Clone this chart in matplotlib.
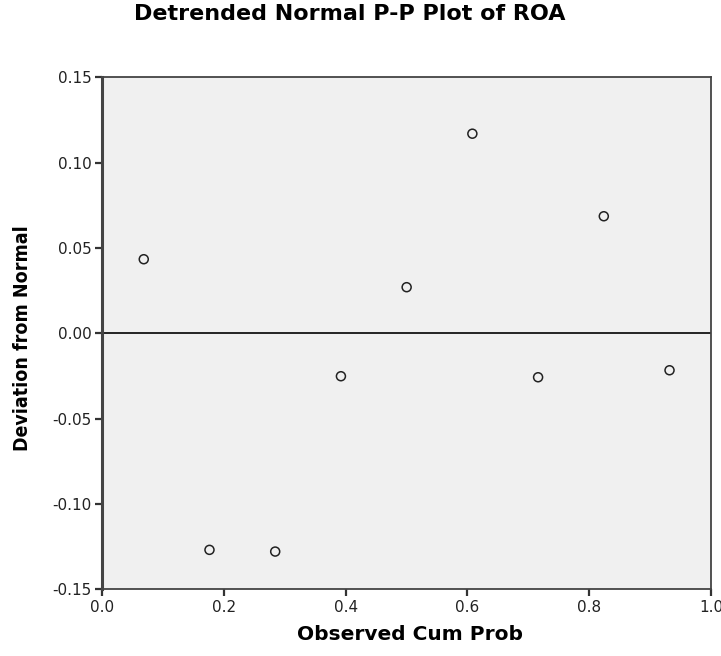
import numpy as np
import matplotlib.pyplot as plt

plt.rcParams['font.family'] = ['DejaVu Sans']

# observed cumulative probabilities and deviations from normal
cum_prob = [0.068, 0.176, 0.284, 0.392, 0.500, 0.608, 0.716, 0.824, 0.932]
deviation = [0.0434, -0.127, -0.128, -0.0252, 0.027, 0.117, -0.0258, 0.0686, -0.0217]

fig = plt.figure(figsize=(7.21, 6.56), dpi=100)
ax = fig.add_axes([0.142, 0.102, 0.844, 0.780])
ax.set_facecolor('#f0f0f0')

ax.axhline(0, color='black', lw=1.2, zorder=1)
ax.scatter(cum_prob, deviation, s=42, facecolors='none', edgecolors='#222222',
           linewidths=1.1, zorder=3)

ax.set_xlim(0, 1.0)
ax.set_ylim(-0.15, 0.15)
ax.set_xticks(np.arange(0, 1.01, 0.2))
ax.set_yticks(np.arange(-0.15, 0.151, 0.05))
ax.set_xticklabels(['0.0', '0.2', '0.4', '0.6', '0.8', '1.0'])
ax.set_yticklabels(['-0.15', '-0.10', '-0.05', '0.00', '0.05', '0.10', '0.15'])
ax.tick_params(direction='out', length=5, width=1.6, color='#333333',
               labelsize=11, pad=3, labelcolor='#222222')

for side in ['left', 'bottom', 'top', 'right']:
    ax.spines[side].set_color('#444444')
ax.spines['left'].set_linewidth(2.2)
ax.spines['bottom'].set_linewidth(1.3)
ax.spines['top'].set_linewidth(1.3)
ax.spines['right'].set_linewidth(1.3)

ax.set_xlabel('Observed Cum Prob', fontsize=14.5, fontweight='bold', va='center')
ax.xaxis.set_label_coords(0.505, -0.088)
ax.set_ylabel('Deviation from Normal', fontsize=14, fontweight='bold',
              fontstretch='condensed', va='center')
ax.yaxis.set_label_coords(-0.132, 0.49)
fig.text(0.485, 0.978, 'Detrended Normal P-P Plot of ROA', ha='center', va='center',
         fontsize=16, fontweight='bold')

fig.savefig('out.png', dpi=100)
